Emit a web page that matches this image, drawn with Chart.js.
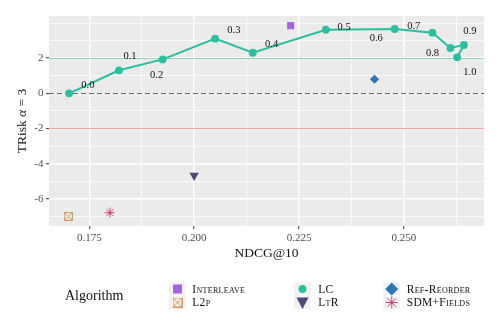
<!DOCTYPE html>
<html><head><meta charset="utf-8">
<script src="https://cdn.jsdelivr.net/npm/chart.js@4/dist/chart.umd.min.js"></script>
<style>html,body{margin:0;padding:0;background:#fff}canvas{display:block}</style>
</head><body>
<canvas id="c" width="504" height="333"></canvas>
<script>
// ---- data ----
const lcAlpha = ['0.0','0.1','0.2','0.3','0.4','0.5','0.6','0.7','0.8','0.9','1.0'];
const lcNdcg  = [0.1702, 0.1821, 0.1925, 0.2050, 0.2140, 0.2314, 0.2478, 0.2568, 0.2611, 0.2643, 0.2627];
const lcTrisk = [0.00, 1.31, 1.93, 3.11, 2.31, 3.62, 3.66, 3.45, 2.58, 2.75, 2.05];
const lcLabelDx = [18.7, 11, -6, 18.7, 18.7, 18.3, -18.4, -18.7, -18, 6, 12.7];
const lcLabelDy = [-8.3, -14.3, 15.7, -8.4, -8, -2.7, 9.7, -6, 5.3, -14, 15];
const interleaveNdcg = [0.2230], interleaveTrisk = [3.85];
const l2pNdcg = [0.1700], l2pTrisk = [-7.00];
const ltrNdcg = [0.2000], ltrTrisk = [-4.68];
const refReorderNdcg = [0.2430], refReorderTrisk = [0.80];
const sdmNdcg = [0.1799], sdmTrisk = [-6.79];
const xMajorTicks = [0.175, 0.200, 0.225, 0.250];
const xMinorTicks = [0.1875, 0.2125, 0.2375, 0.2625];
const yMajorTicks = [-6, -4, -2, 0, 2];
const yMinorTicks = [-7, -5, -3, -1, 1, 3, 4];
const refLines = [2, 0, -2];
const algorithms = ['Interleave','L2p','LC','LtR','Ref-Reorder','SDM+Fields'];

// ---- styles ----
const FONT = "'Liberation Serif', 'DejaVu Serif', serif";
const C = {Interleave:'#a463e0', L2p:'#d09a5a', LC:'#2cbf9e', LtR:'#4b4a78', 'Ref-Reorder':'#2a78b8', 'SDM+Fields':'#d0457b'};

function boxX(color, size){
  const c = document.createElement('canvas'); c.width = c.height = size;
  const g = c.getContext('2d'); g.strokeStyle = color; g.lineWidth = 1;
  g.strokeRect(0.5, 0.5, size-1, size-1);
  g.beginPath(); g.moveTo(1,1); g.lineTo(size-1,size-1); g.moveTo(size-1,1); g.lineTo(1,size-1); g.stroke();
  return c;
}
function asterisk(color, size){
  const c = document.createElement('canvas'); c.width = c.height = size;
  const g = c.getContext('2d'); g.strokeStyle = color; g.lineWidth = 1; g.fillStyle = color;
  const m = size/2, r = size/2 - 0.5, d = r*Math.SQRT1_2;
  g.beginPath();
  g.moveTo(m-r,m); g.lineTo(m+r,m); g.moveTo(m,m-r); g.lineTo(m,m+r);
  g.moveTo(m-d,m-d); g.lineTo(m+d,m+d); g.moveTo(m+d,m-d); g.lineTo(m-d,m+d);
  g.stroke();
  g.beginPath(); g.arc(m,m,1.4,0,Math.PI*2); g.fill();
  return c;
}
const pts = (xs, ys) => xs.map((x,i)=>({x, y: ys[i]}));

const datasets = [
  {label:'LC', data: pts(lcNdcg, lcTrisk), showLine:true, borderColor:C.LC, borderWidth:2,
   pointRadius:3.9, pointBackgroundColor:C.LC, pointBorderWidth:0, pointStyle:'circle'},
  {label:'Interleave', data: pts(interleaveNdcg, interleaveTrisk), pointStyle:'rect', pointRadius:5,
   pointBackgroundColor:C.Interleave, pointBorderWidth:0},
  {label:'L2p', data: pts(l2pNdcg, l2pTrisk), pointStyle: boxX(C.L2p, 9), pointRadius:5},
  {label:'LtR', data: pts(ltrNdcg, ltrTrisk), pointStyle:'triangle', rotation:180, pointRadius:5.4,
   pointBackgroundColor:C.LtR, pointBorderWidth:0},
  {label:'Ref-Reorder', data: pts(refReorderNdcg, refReorderTrisk), pointStyle:'rectRot', pointRadius:4.6,
   pointBackgroundColor:C['Ref-Reorder'], pointBorderWidth:0},
  {label:'SDM+Fields', data: pts(sdmNdcg, sdmTrisk), pointStyle: asterisk(C['SDM+Fields'], 11), pointRadius:5}
];

const isIn = (arr, v) => arr.some(a => Math.abs(a - v) < 1e-9);

function drawSegments(ctx, segs, x, y){
  let total = 0;
  segs.forEach(s => { ctx.font = s[1]; total += ctx.measureText(s[0]).width; });
  let cx = x - total/2;
  segs.forEach(s => { ctx.font = s[1]; ctx.fillText(s[0], cx, y); cx += ctx.measureText(s[0]).width; });
}

const deco = {
  id:'deco',
  beforeDraw(chart){
    const {ctx, chartArea:a} = chart;
    ctx.save();
    ctx.fillStyle = '#fff'; ctx.fillRect(0,0,chart.width,chart.height);
    ctx.fillStyle = '#ebebeb'; ctx.fillRect(a.left, a.top, a.right-a.left, a.bottom-a.top);
    ctx.restore();
  },
  beforeDatasetsDraw(chart){
    const {ctx, chartArea:a, scales:{y}} = chart;
    ctx.save();
    refLines.forEach(v => {
      const py = Math.round(y.getPixelForValue(v)) + 0.5;
      ctx.beginPath(); ctx.lineWidth = 1;
      if (v === 0){ ctx.strokeStyle = '#666'; ctx.setLineDash([5,3]); }
      else if (v > 0){ ctx.strokeStyle = '#8fd4c1'; ctx.setLineDash([]); }
      else { ctx.strokeStyle = '#efaaa5'; ctx.setLineDash([]); }
      ctx.moveTo(a.left, py); ctx.lineTo(a.right, py); ctx.stroke();
    });
    ctx.restore();
  },
  afterDatasetsDraw(chart){
    const {ctx, scales:{x, y}} = chart;
    ctx.save();
    ctx.fillStyle = '#111'; ctx.font = '10.5px ' + FONT;
    ctx.textAlign = 'center'; ctx.textBaseline = 'middle';
    lcAlpha.forEach((t,i) => {
      ctx.fillText(t, x.getPixelForValue(lcNdcg[i]) + lcLabelDx[i], y.getPixelForValue(lcTrisk[i]) + lcLabelDy[i]);
    });
    ctx.restore();
  },
  afterDraw(chart){
    const {ctx, chartArea:a} = chart;
    ctx.save();
    ctx.fillStyle = '#111'; ctx.textBaseline = 'middle'; ctx.textAlign = 'left';
    drawSegments(ctx, [['NDCG@10', '13.5px ' + FONT]], (a.left + a.right)/2, 253);
    ctx.save(); ctx.translate(22, (a.top + a.bottom)/2); ctx.rotate(-Math.PI/2);
    drawSegments(ctx, [['TRisk ', '13.5px ' + FONT], ['α', 'italic 13.5px ' + FONT], [' = 3', '13.5px ' + FONT]], 0, 0);
    ctx.restore();
    ctx.font = '14px ' + FONT; ctx.fillText('Algorithm', 65, 296);
    const cols = [[177.5, 192.3], [302.5, 318.3], [391.7, 406.7]];
    const rows = [289, 302.5];
    algorithms.forEach((name, i) => {
      const [kx, tx] = cols[Math.floor(i/2)], ky = rows[i%2];
      ctx.fillStyle = '#f2f2f2'; ctx.fillRect(kx-8.5, ky-6.5, 17, 13);
      const col = C[name];
      ctx.fillStyle = col; ctx.strokeStyle = col;
      ctx.beginPath();
      if (name === 'Interleave'){ ctx.fillRect(kx-4.5, ky-4.5, 9, 9); }
      else if (name === 'L2p'){ const im = boxX(col, 10); ctx.drawImage(im, kx-5, ky-5); }
      else if (name === 'LC'){ ctx.arc(kx, ky, 4, 0, Math.PI*2); ctx.fill(); }
      else if (name === 'LtR'){ ctx.moveTo(kx-6, ky-5); ctx.lineTo(kx+6, ky-5); ctx.lineTo(kx, ky+6.5); ctx.closePath(); ctx.fill(); }
      else if (name === 'Ref-Reorder'){ ctx.moveTo(kx, ky-6.5); ctx.lineTo(kx+6.5, ky); ctx.lineTo(kx, ky+6.5); ctx.lineTo(kx-6.5, ky); ctx.closePath(); ctx.fill(); }
      else { const im = asterisk(col, 13); ctx.drawImage(im, kx-6.5, ky-6.5); }
      ctx.fillStyle = '#111';
      ctx.font = 'small-caps 11.5px ' + FONT;
      try { ctx.letterSpacing = '0.3px'; } catch(e) {}
      ctx.fillText(name, tx, ky + 0.5);
      try { ctx.letterSpacing = '0px'; } catch(e) {}
    });
    ctx.restore();
  }
};

function axis(majors, minors, min, max, fmt, fit){
  return {
    type:'linear', min, max,
    afterBuildTicks: s => { s.ticks = majors.concat(minors).sort((p,q)=>p-q).map(v=>({value:v})); },
    afterFit: fit,
    border:{display:false},
    grid:{
      color:'#ffffff',
      lineWidth: c => (c.tick && isIn(majors, c.tick.value)) ? 1.4 : 0.7,
      tickColor: c => (c.tick && isIn(majors, c.tick.value)) ? '#333333' : 'rgba(0,0,0,0)',
      tickLength:3, tickWidth:1
    },
    ticks:{
      autoSkip:false, maxRotation:0, color:'#4d4d4d',
      font:{family:FONT, size:11}, padding:2.5,
      callback: v => isIn(majors, v) ? fmt(v) : ''
    }
  };
}

new Chart(document.getElementById('c'), {
  type:'scatter',
  data:{datasets},
  options:{
    responsive:false, animation:false, devicePixelRatio:1, events:[],
    layout:{padding:{left:0, top:16, right:20, bottom:0}},
    plugins:{legend:{display:false}, tooltip:{enabled:false}},
    scales:{
      x: axis(xMajorTicks, xMinorTicks, 0.1654, 0.2691, v => v.toFixed(3), s => { s.height = 107; }),
      y: axis(yMajorTicks, yMinorTicks, -7.55, 4.40, v => String(v), s => { s.width = 49; })
    }
  },
  plugins:[deco]
});
</script>
</body></html>
